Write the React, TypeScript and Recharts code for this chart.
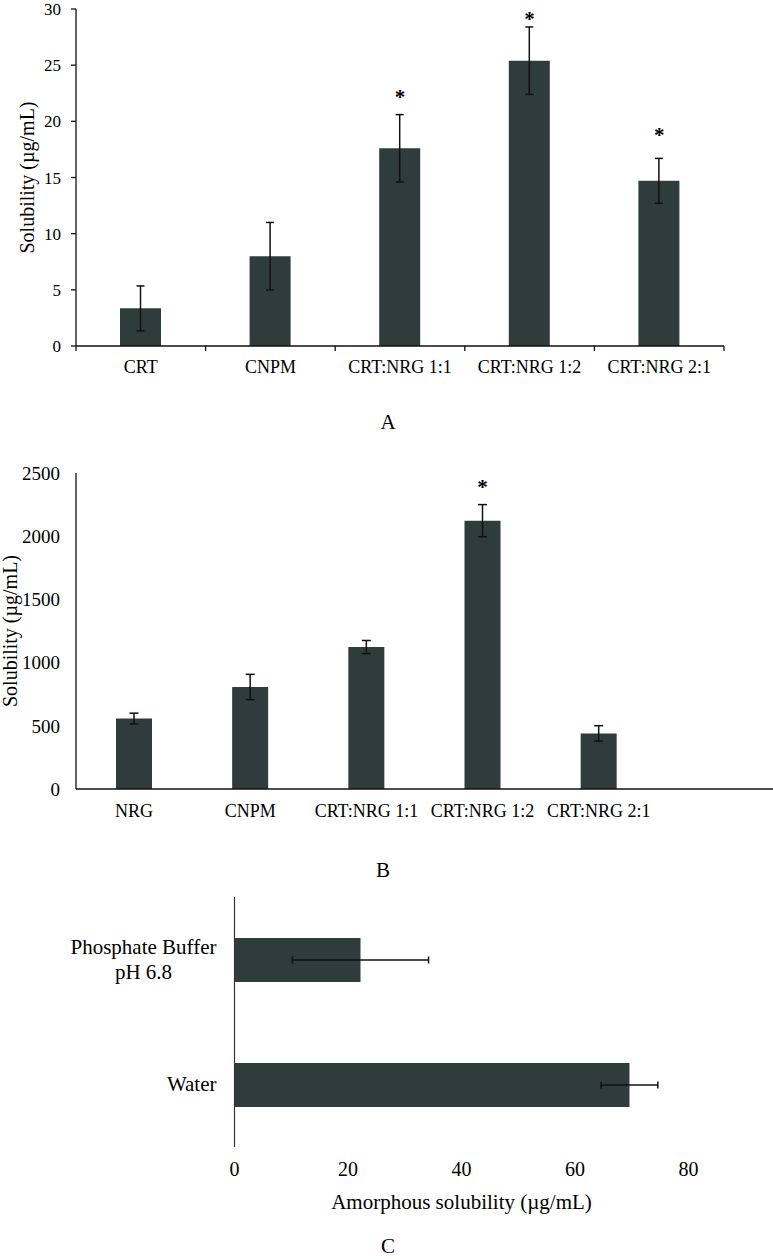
import {
  BarChart,
  Bar,
  XAxis,
  YAxis,
  ErrorBar,
  ReferenceDot,
  Label
} from 'recharts';

// Panel A: CRT solubility
const catsA = ['CRT', 'CNPM', 'CRT:NRG 1:1', 'CRT:NRG 1:2', 'CRT:NRG 2:1'];
const solA = [3.35, 8.0, 17.6, 25.4, 14.7];
const errA = [2.0, 3.0, 3.0, 3.0, 2.0];
const starA = [null, null, 22.5, 29.5, 19.1];
const ticksA = [0, 5, 10, 15, 20, 25, 30];

// Panel B: NRG solubility (last slot is an empty category, as in the original)
const catsB = ['NRG', 'CNPM', 'CRT:NRG 1:1', 'CRT:NRG 1:2', 'CRT:NRG 2:1', ''];
const solB = [557, 807, 1123, 2123, 440, null];
const errB = [43, 100, 52, 127, 61, null];
const starB = [null, null, null, 2420, null, null];
const ticksB = [0, 500, 1000, 1500, 2000, 2500];

// Panel C: amorphous solubility
const catsC = ['Phosphate Buffer\npH 6.8', 'Water'];
const solC = [22.2, 69.6];
const errC = [12, 5];
const ticksC = [0, 20, 40, 60, 80];

const FONT = '"Liberation Serif", "Times New Roman", serif';
const BAR = '#2e3d3b';
const INK = '#111';

const dataA = catsA.map((name, i) => ({ name, value: solA[i], err: errA[i] }));
const dataB = catsB.map((name, i) => ({ name, value: solB[i], err: errB[i] }));
const dataC = catsC.map((name, i) => ({ name, value: solC[i], err: errC[i] }));

// category tick with the small tick marks on the band edges (Excel style)
function EdgeTick(props: any) {
  const { x, y, payload, index, visibleTicksCount, gap, fontSize } = props;
  const half = payload.offset ?? 0;
  const axisY = y - gap;
  return (
    <g>
      <line x1={x - half} y1={axisY} x2={x - half} y2={axisY + 5} stroke={INK} strokeWidth={1.3} />
      {index === visibleTicksCount - 1 && (
        <line x1={x + half} y1={axisY} x2={x + half} y2={axisY + 5} stroke={INK} strokeWidth={1.3} />
      )}
      <text x={x} y={y} dy="0.71em" textAnchor="middle" fill="#000" fontSize={fontSize} fontFamily={FONT}>
        {payload.value}
      </text>
    </g>
  );
}

function StackedTick(props: any) {
  const { x, y, payload } = props;
  const lines = String(payload.value).split('\n');
  const style = { fill: '#000', fontSize: 21, fontFamily: FONT };
  if (lines.length === 1) {
    return (
      <text x={x} y={y} dy="0.33em" textAnchor="end" {...style}>
        {lines[0]}
      </text>
    );
  }
  const mid = x - 73;
  return (
    <text textAnchor="middle" {...style}>
      <tspan x={mid} y={y} dy="-0.24em">{lines[0]}</tspan>
      <tspan x={mid} y={y} dy="0.95em">{lines[1]}</tspan>
    </text>
  );
}

function Star({ x, y }: { x: string; y: number }) {
  return (
    <ReferenceDot
      x={x}
      y={y}
      r={0}
      fill="none"
      stroke="none"
      ifOverflow="visible"
      label={{ value: '*', position: 'top', offset: -11, fill: '#000', fontSize: 21, fontWeight: 'bold', fontFamily: FONT }}
    />
  );
}

function PanelA() {
  return (
    <BarChart width={773} height={400} data={dataA} margin={{ top: 9, right: 49, left: -22, bottom: 0 }} style={{ fontFamily: FONT, overflow: 'visible' }}>
      <XAxis
        dataKey="name"
        interval={0}
        height={54}
        axisLine={{ stroke: INK, strokeWidth: 1.3 }}
        tickLine={false}
        tickSize={0}
        tickMargin={14}
        tick={<EdgeTick gap={14} fontSize={18} />}
      />
      <YAxis
        width={98}
        domain={[0, 30]}
        ticks={ticksA}
        interval={0}
        axisLine={{ stroke: INK, strokeWidth: 1.3 }}
        tickLine={{ stroke: INK, strokeWidth: 1.3 }}
        tickSize={5}
        tickMargin={10}
        tick={{ fill: '#000', fontSize: 17, fontFamily: FONT }}
      >
        <Label value="Solubility (µg/mL)" angle={-90} position="center" fill="#000" fontSize={20} fontFamily={FONT} />
      </YAxis>
      <Bar dataKey="value" fill={BAR} barSize={41} isAnimationActive={false}>
        <ErrorBar dataKey="err" direction="y" width={4} stroke={INK} strokeWidth={1.5} />
      </Bar>
      {catsA.map((c, i) => (starA[i] != null ? <Star key={c} x={c} y={starA[i] as number} /> : null))}
    </BarChart>
  );
}

function PanelB() {
  return (
    <BarChart width={773} height={400} data={dataB} margin={{ top: 33, right: 0, left: -56, bottom: 0 }} style={{ fontFamily: FONT, overflow: 'visible' }}>
      <XAxis
        dataKey="name"
        interval={0}
        height={51}
        axisLine={{ stroke: INK, strokeWidth: 1.6 }}
        tickLine={false}
        tickSize={0}
        tickMargin={15}
        tick={{ fill: '#000', fontSize: 18, fontFamily: FONT }}
      />
      <YAxis
        width={132}
        domain={[0, 2500]}
        ticks={ticksB}
        interval={0}
        axisLine={{ stroke: INK, strokeWidth: 1.3 }}
        tickLine={false}
        tickSize={0}
        tickMargin={16}
        tick={{ fill: '#000', fontSize: 19, fontFamily: FONT }}
      >
        <Label value="Solubility (µg/mL)" angle={-90} position="center" fill="#000" fontSize={20} fontFamily={FONT} />
      </YAxis>
      <Bar dataKey="value" fill={BAR} barSize={36} isAnimationActive={false}>
        <ErrorBar dataKey="err" direction="y" width={4.5} stroke={INK} strokeWidth={1.5} />
      </Bar>
      {catsB.map((c, i) => (starB[i] != null ? <Star key={c || 'blank'} x={c} y={starB[i] as number} /> : null))}
    </BarChart>
  );
}

function PanelC() {
  return (
    <BarChart
      width={773}
      height={379}
      data={dataC}
      layout="vertical"
      margin={{ top: 17, right: 84.5, left: 0, bottom: 2 }}
      style={{ fontFamily: FONT, overflow: 'visible' }}
    >
      <XAxis
        type="number"
        domain={[0, 80]}
        ticks={ticksC}
        interval={0}
        height={110}
        axisLine={false}
        tickLine={false}
        tickSize={0}
        tickMargin={15}
        tick={{ fill: '#000', fontSize: 20, fontFamily: FONT }}
      >
        <Label value="Amorphous solubility (µg/mL)" position="center" fill="#000" fontSize={21} fontFamily={FONT} />
      </XAxis>
      <YAxis
        type="category"
        dataKey="name"
        width={234.5}
        interval={0}
        axisLine={{ stroke: '#333', strokeWidth: 1.2 }}
        tickLine={false}
        tickSize={0}
        tickMargin={18}
        tick={<StackedTick />}
      />
      <Bar dataKey="value" fill={BAR} barSize={44} isAnimationActive={false}>
        <ErrorBar dataKey="err" direction="x" width={3.5} stroke={INK} strokeWidth={1.5} />
      </Bar>
    </BarChart>
  );
}

const letter = (top: number, left: number): React.CSSProperties => ({
  position: 'absolute',
  top,
  left,
  width: 40,
  marginLeft: -20,
  textAlign: 'center',
  fontFamily: FONT,
  fontSize: 21,
  lineHeight: '22px',
  color: '#000'
});

export default function App() {
  return (
    <div style={{ position: 'absolute', left: 0, top: 0, width: 773, height: 1259, background: '#fff', overflow: 'hidden' }}>
      <div style={{ position: 'absolute', left: 0, top: 0 }}>
        <PanelA />
      </div>
      <div style={letter(411, 388)}>A</div>
      <div style={{ position: 'absolute', left: 0, top: 440 }}>
        <PanelB />
      </div>
      <div style={letter(859, 383)}>B</div>
      <div style={{ position: 'absolute', left: 0, top: 880 }}>
        <PanelC />
      </div>
      <div style={letter(1235, 388)}>C</div>
    </div>
  );
}
